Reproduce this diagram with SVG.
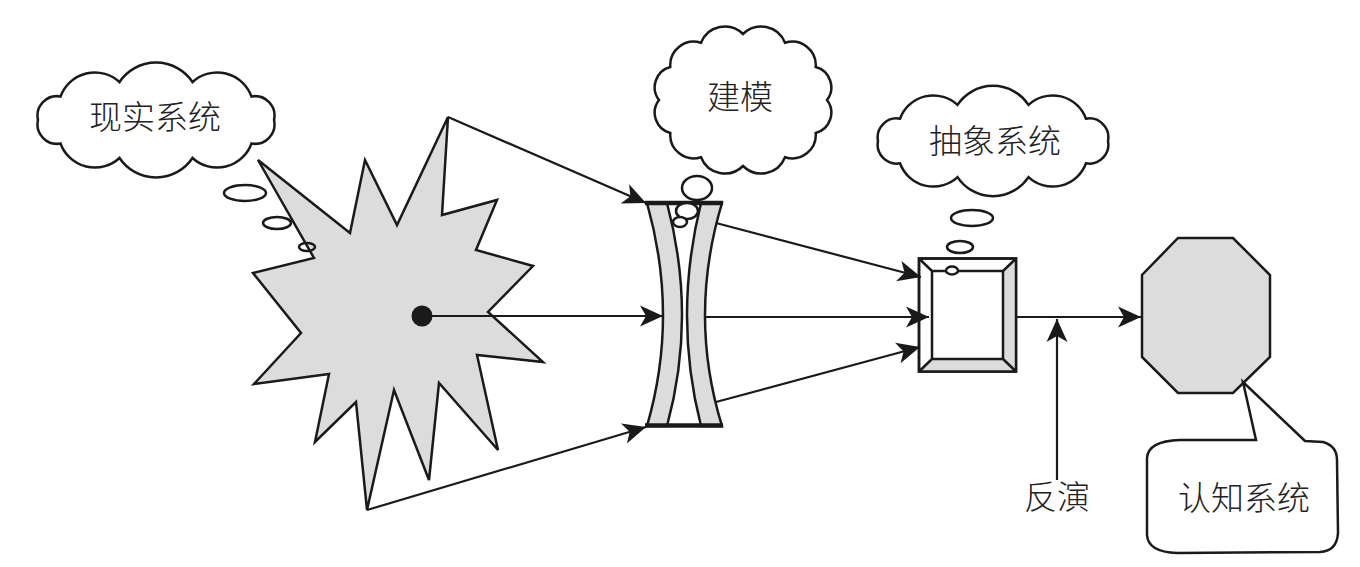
<svg xmlns="http://www.w3.org/2000/svg" width="1360" height="567" viewBox="0 0 1360 567">
<style>
.s{stroke:#1a1a1a;stroke-width:2.5;stroke-linejoin:miter;fill:none}
.w{fill:#fff}
.g{fill:#dcdcdc}
.t{font-family:"Noto Sans CJK SC","Noto Sans CJK TC",sans-serif;font-size:33px;font-weight:300;fill:#222;text-anchor:middle}
.c{stroke:#1a1a1a;stroke-width:2.2;fill:none}
</style>
<defs>
<marker id="ah" markerUnits="userSpaceOnUse" viewBox="-24 -12 26 24" refX="0" refY="0" markerWidth="26" markerHeight="24" orient="auto">
<path d="M0,0 L-23,-10.5 L-17,0 L-23,10.5 Z" fill="#1a1a1a"/>
</marker>
</defs>
<rect width="1360" height="567" fill="#fff"/>

<g id="real-system">
<path class="s w" d="M274,120 A19.5,19.5 0 0 1 251.5,143.5 A36.5,36.5 0 0 1 192.5,158 A44,44 0 0 1 119.5,158 A36.5,36.5 0 0 1 60.5,143.5 A19.5,19.5 0 0 1 38,120 A19.5,19.5 0 0 1 60.5,96.5 A36.5,36.5 0 0 1 119.5,82 A44,44 0 0 1 192.5,82 A36.5,36.5 0 0 1 251.5,96.5 A19.5,19.5 0 0 1 274,120 Z"/>
<text class="t" x="155" y="129">现实系统</text>
<path class="s g" d="M258,160 L350,233 L365,160 L397,225 L448,117 L442,215 L497,200 L476,250 L533,266 L488,312 L543,362 L477,355 L498,450 L439,383 L429,480 L394,390 L367,510 L356,402 L315,442 L329,374 L254,384 L301,333 L253,273 L314,258 Z"/>
<ellipse class="s w" cx="245" cy="193" rx="21" ry="8"/>
<ellipse class="s w" cx="277" cy="223" rx="14" ry="6"/>
<ellipse class="s" cx="307" cy="247" rx="8" ry="4"/>
<circle cx="422" cy="316" r="10.5" fill="#1a1a1a"/>
</g>

<g id="modeling">
<path class="s w" d="M827,100 A21,21 0 0 1 815.7,133 A23.5,23.5 0 0 1 785,157.2 A25.7,25.7 0 0 1 743,166 A25.7,25.7 0 0 1 701,157.2 A23.5,23.5 0 0 1 670.3,133 A21,21 0 0 1 659,100 A21,21 0 0 1 670.3,67 A23.5,23.5 0 0 1 701,42.8 A25.7,25.7 0 0 1 743,34 A25.7,25.7 0 0 1 785,42.8 A23.5,23.5 0 0 1 815.7,67 A21,21 0 0 1 827,100 Z"/>
<text class="t" x="740" y="109">建模</text>
<path class="s g" d="M647,203 Q679,316 647,426 L667,426 Q697,316 667,203 Z"/>
<path class="s g" d="M701,203 Q673,316 701,426 L722,426 Q688,316 722,203 Z"/>
<line x1="645" y1="203" x2="723" y2="203" stroke="#1a1a1a" stroke-width="4.5"/>
<line x1="645" y1="425.5" x2="723" y2="425.5" stroke="#1a1a1a" stroke-width="4.5"/>
<ellipse class="s w" cx="697" cy="188" rx="15" ry="12"/>
<ellipse class="s w" cx="687" cy="211" rx="11" ry="8"/>
<ellipse class="s w" cx="680" cy="222" rx="7" ry="5"/>
</g>

<g id="abstract-system">
<path class="s w" d="M1108,141 A19,19 0 0 1 1086,163.3 A35.5,35.5 0 0 1 1028.5,177.1 A42.6,42.6 0 0 1 957.5,177.1 A35.5,35.5 0 0 1 900,163.3 A19,19 0 0 1 878,141 A19,19 0 0 1 900,118.7 A35.5,35.5 0 0 1 957.5,104.9 A42.6,42.6 0 0 1 1028.5,104.9 A35.5,35.5 0 0 1 1086,118.7 A19,19 0 0 1 1108,141 Z"/>
<text class="t" x="995" y="153">抽象系统</text>
<ellipse class="s w" cx="972" cy="218" rx="21" ry="8"/>
<ellipse class="s w" cx="960" cy="247" rx="13" ry="6"/>
<rect class="s w" x="919" y="258.5" width="97" height="113"/>
<path class="g" d="M1016,258.5 L1016,371.5 L919,371.5 L932,359 L1003,359 L1003,271 Z"/>
<path class="s" d="M919,258.5 L1016,258.5 L1016,371.5 L919,371.5 Z M932,271 L1003,271 L1003,359 L932,359 Z M919,258.5 L932,271 M1016,258.5 L1003,271 M1016,371.5 L1003,359 M919,371.5 L932,359"/>
<ellipse class="s w" cx="952" cy="270.5" rx="6" ry="4"/>
</g>

<g id="cognitive-system">
<path class="s g" d="M1178,238 L1233,238 L1270,275 L1270,357 L1233,393 L1178,393 L1142,357 L1142,275 Z"/>
<path class="s w" d="M1180,440 L1256,440 L1243,382 L1305,441 L1323,442 Q1337,446 1337,460 L1338,533 Q1337,551 1320,552 L1177,553 Q1148,552 1147,535 L1147,458 Q1148,441 1180,440 Z"/>
<text class="t" x="1244" y="510">认知系统</text>
</g>

<g id="inversion-label">
<text class="t" x="1057" y="509">反演</text>
</g>

<g id="connectors">
<line class="c" x1="448" y1="117" x2="646" y2="203" marker-end="url(#ah)"/>
<line class="c" x1="422" y1="316" x2="663" y2="316" marker-end="url(#ah)"/>
<line class="c" x1="367" y1="510" x2="646" y2="427" marker-end="url(#ah)"/>
<line class="c" x1="716" y1="223" x2="921" y2="277" marker-end="url(#ah)"/>
<line class="c" x1="705" y1="317" x2="929" y2="317" marker-end="url(#ah)"/>
<line class="c" x1="716" y1="402" x2="920" y2="347" marker-end="url(#ah)"/>
<line class="c" x1="1016" y1="317" x2="1141" y2="317" marker-end="url(#ah)"/>
<line class="c" x1="1057" y1="480" x2="1057" y2="319" marker-end="url(#ah)"/>
</g>
</svg>
